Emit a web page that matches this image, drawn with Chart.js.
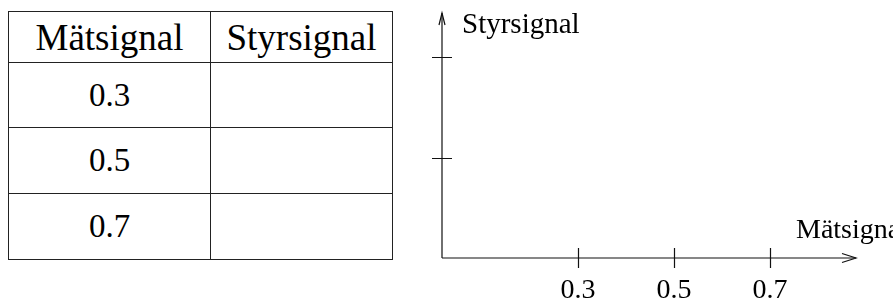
<!DOCTYPE html>
<html>
<head>
<meta charset="utf-8">
<script src="https://cdn.jsdelivr.net/npm/chart.js@4.4.1/dist/chart.umd.min.js"></script>
<style>
  html, body { margin: 0; padding: 0; background: #fff; }
  body { width: 893px; height: 302px; position: relative; overflow: hidden; font-family: 'Liberation Serif', serif; }
  #value-table {
    position: absolute; left: 8px; top: 11px;
    border-collapse: collapse; table-layout: fixed;
  }
  #value-table th, #value-table td {
    border: 1px solid #222; padding: 0; text-align: center; color: #000;
    font-weight: normal;
  }
  #value-table th { height: 50px; font-size: 37px; }
  #value-table td { height: 65px; font-size: 33px; }
  #value-table tbody tr:first-child td { height: 64px; }
  #chart-wrap { position: absolute; left: 420px; top: 0; width: 473px; height: 302px; }
</style>
</head>
<body>
<table id="value-table">
  <colgroup><col style="width:202px"><col style="width:182px"></colgroup>
  <thead><tr id="table-head"></tr></thead>
  <tbody id="table-body"></tbody>
</table>
<div id="chart-wrap"><canvas id="signal-chart" width="473" height="302"></canvas></div>
<script>
// ─── Data ────────────────────────────────────────────────────────
const tableHeaders = ["Mätsignal", "Styrsignal"];
const tableValues = ["0.3", "0.5", "0.7"];
const xTicks = [0.3, 0.5, 0.7];
const yTicks = [1, 2];          // unlabelled marks on the y axis
const xTitle = "Mätsignal";
const yTitle = "Styrsignal";

// ─── Table ───────────────────────────────────────────────────────
const head = document.getElementById("table-head");
tableHeaders.forEach(h => {
    const th = document.createElement("th");
    th.textContent = h;
    head.appendChild(th);
});
const body = document.getElementById("table-body");
tableValues.forEach(v => {
    const tr = document.createElement("tr");
    tr.innerHTML = `<td>${v}</td><td></td>`;
    body.appendChild(tr);
});

// ─── Axes drawn by hand over the chart scales ────────────────────
const SERIF = "'Liberation Serif', serif";

function arrow(ctx, x, y, dx, dy, len, half) {
    // open arrowhead with tip at (x, y) pointing along (dx, dy)
    const px = -dy, py = dx;
    ctx.beginPath();
    ctx.moveTo(x - dx * len + px * half, y - dy * len + py * half);
    ctx.lineTo(x, y);
    ctx.lineTo(x - dx * len - px * half, y - dy * len - py * half);
    ctx.stroke();
}

const axesPlugin = {
    id: "handAxes",
    afterDraw(chart) {
        const ctx = chart.ctx;
        const xs = chart.scales.x, ys = chart.scales.y;
        const x0 = xs.getPixelForValue(xs.min);
        const y0 = ys.getPixelForValue(0);
        const xEnd = xs.getPixelForValue(xs.max);
        const yEnd = ys.getPixelForValue(ys.max);

        ctx.save();
        ctx.strokeStyle = "#111";
        ctx.lineWidth = 1.2;

        // axis lines
        ctx.beginPath();
        ctx.moveTo(x0, y0); ctx.lineTo(xEnd, y0);
        ctx.moveTo(x0, y0); ctx.lineTo(x0, yEnd);
        ctx.stroke();
        arrow(ctx, xEnd, y0, 1, 0, 14, 4.5);
        arrow(ctx, x0, yEnd, 0, -1, 12, 3);

        // tick marks crossing the axes
        ctx.beginPath();
        xTicks.forEach(v => {
            const px = Math.round(xs.getPixelForValue(v)) + 0.5;
            ctx.moveTo(px, y0 - 10); ctx.lineTo(px, y0 + 10);
        });
        yTicks.forEach(v => {
            const py = Math.round(ys.getPixelForValue(v)) + 0.5;
            ctx.moveTo(x0 - 10, py); ctx.lineTo(x0 + 10, py);
        });
        ctx.stroke();

        // labels
        ctx.fillStyle = "#000";
        ctx.textBaseline = "alphabetic";
        ctx.font = "28px " + SERIF;
        ctx.textAlign = "center";
        xTicks.forEach(v => {
            ctx.fillText(v.toFixed(1), xs.getPixelForValue(v), y0 + 40);
        });
        ctx.textAlign = "left";
        ctx.fillText(xTitle, xEnd - 60, y0 - 20);
        ctx.font = "29px " + SERIF;
        ctx.fillText(yTitle, x0 + 20, yEnd + 20);
        ctx.restore();
    }
};

new Chart(document.getElementById("signal-chart").getContext("2d"), {
    type: "scatter",
    data: { datasets: [{ data: [] }] },
    options: {
        responsive: false,
        animation: false,
        events: [],
        layout: { padding: { left: 22, right: 37, top: 13, bottom: 44 } },
        plugins: { legend: { display: false }, tooltip: { enabled: false } },
        scales: {
            x: { type: "linear", min: 0.0167, max: 0.8792, display: false },
            y: { type: "linear", min: 0, max: 2.44, display: false }
        }
    },
    plugins: [axesPlugin]
});
</script>
</body>
</html>
